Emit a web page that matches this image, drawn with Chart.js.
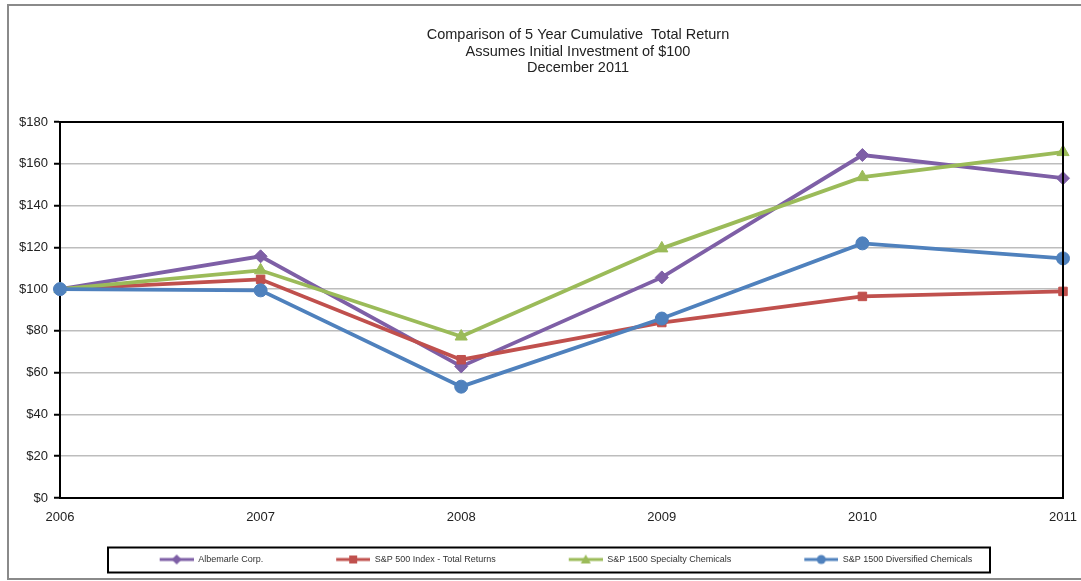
<!DOCTYPE html>
<html>
<head>
<meta charset="utf-8">
<script src="https://cdn.jsdelivr.net/npm/chart.js@4.4.1/dist/chart.umd.min.js"></script>
<style>
  html, body { margin: 0; padding: 0; background: #fff; }
  #wrap { width: 1081px; height: 581px; position: relative; }
</style>
</head>
<body>
<div id="wrap"><canvas id="tsr"></canvas></div>
<script>
const years = ['2006', '2007', '2008', '2009', '2010', '2011'];
const titleLines = [
  'Comparison of 5 Year Cumulative  Total Return',
  'Assumes Initial Investment of $100',
  'December 2011'
];

// values
const albemarle   = [100, 115.7, 63.0, 105.6, 164.2, 153.1];
const sp500       = [100, 104.7, 66.2, 84.0, 96.5, 98.9];
const specialty   = [100, 109.0, 77.3, 119.5, 153.6, 165.6];
const diversified = [100, 99.4, 53.3, 85.9, 121.9, 114.7];

const FONT = '"Liberation Sans", Arial, sans-serif';
const GAP = 69; // blank room left of each legend sample

// legend sample: short line with the marker in the middle, blank room on the left
function legendSample(color, style) {
  const c = document.createElement('canvas');
  c.width = 34 + GAP; c.height = 12;
  const g = c.getContext('2d');
  const x0 = GAP, mx = GAP + 17;
  g.strokeStyle = color;
  g.lineWidth = 3;
  g.beginPath(); g.moveTo(x0, 6); g.lineTo(x0 + 34, 6); g.stroke();
  g.fillStyle = color;
  g.beginPath();
  if (style === 'rect') g.rect(mx - 4, 2, 8, 8);
  else if (style === 'rectRot') { g.moveTo(mx, 1); g.lineTo(mx + 5, 6); g.lineTo(mx, 11); g.lineTo(mx - 5, 6); }
  else if (style === 'triangle') { g.moveTo(mx, 1); g.lineTo(mx + 5, 10); g.lineTo(mx - 5, 10); }
  else g.arc(mx, 6, 4.5, 0, Math.PI * 2);
  g.fill();
  return c;
}

function series(label, data, color, style, radius, order) {
  return {
    label, data, order,
    borderColor: color,
    backgroundColor: color,
    borderWidth: 3.8,
    pointStyle: style,
    pointRadius: radius,
    pointHoverRadius: radius,
    pointBorderWidth: 1,
    tension: 0,
    fill: false,
    sample: legendSample(color, style)
  };
}

const frame = {
  id: 'frame',
  beforeDraw(chart) {
    const ctx = chart.ctx;
    ctx.save();
    ctx.fillStyle = '#fff';
    ctx.fillRect(0, 0, chart.width, chart.height);
    ctx.strokeStyle = '#8a8a8a';
    ctx.lineWidth = 2;
    ctx.strokeRect(8, 5, chart.width + 10, 574);
    ctx.fillStyle = '#222';
    ctx.font = '14.5px ' + FONT;
    ctx.textAlign = 'center';
    ctx.textBaseline = 'middle';
    titleLines.forEach((t, i) => ctx.fillText(t, 578, 35 + i * 16.5));
    ctx.restore();
  },
  afterDatasetsDraw(chart) {
    const a = chart.chartArea, ctx = chart.ctx;
    ctx.save();
    ctx.strokeStyle = '#000';
    ctx.lineWidth = 2;
    ctx.beginPath();
    ctx.moveTo(a.left, a.top); ctx.lineTo(a.right, a.top); ctx.lineTo(a.right, a.bottom);
    ctx.stroke();
    ctx.restore();
  },
  afterDraw(chart) {
    const boxes = chart.legend.legendHitBoxes;
    if (!boxes || !boxes.length) return;
    const cy = boxes[0].top + boxes[0].height / 2;
    const ctx = chart.ctx;
    ctx.save();
    ctx.strokeStyle = '#000';
    ctx.lineWidth = 2;
    ctx.strokeRect(108, cy - 12, 882, 25);
    ctx.restore();
  }
};

new Chart(document.getElementById('tsr'), {
  type: 'line',
  data: {
    labels: years,
    datasets: [
      series('Albemarle Corp.', albemarle, '#7E5FA6', 'rectRot', 6.5, 4),
      series('S&P 500 Index - Total Returns', sp500, '#C0504D', 'rect', 6, 3),
      series('S&P 1500 Specialty Chemicals', specialty, '#9BBB59', 'triangle', 7, 2),
      series('S&P 1500 Diversified Chemicals', diversified, '#4F81BD', 'circle', 6.5, 1)
    ]
  },
  plugins: [frame],
  options: {
    responsive: true,
    maintainAspectRatio: false,
    animation: false,
    layout: { autoPadding: false, padding: { top: 122, right: 18, left: 0, bottom: 7 } },
    plugins: {
      title: { display: false },
      tooltip: { enabled: false },
      legend: {
        position: 'bottom',
        labels: {
          color: '#333',
          font: { family: FONT, size: 9 },
          boxWidth: 34 + GAP,
          pointStyleWidth: 34 + GAP,
          boxHeight: 12,
          padding: 4,
          usePointStyle: true,
          generateLabels(chart) {
            return chart.data.datasets.map((ds, i) => ({
              text: ds.label,
              pointStyle: ds.sample,
              fillStyle: ds.borderColor,
              strokeStyle: ds.borderColor,
              lineWidth: 0,
              fontColor: '#333',
              datasetIndex: i,
              hidden: false
            }));
          }
        }
      }
    },
    scales: {
      x: {
        offset: false,
        grid: { display: false, drawOnChartArea: false, drawTicks: true, tickLength: 5, color: '#000', lineWidth: 2 },
        border: { color: '#000', width: 2 },
        ticks: { color: '#222', font: { family: FONT, size: 13 }, padding: 7, maxRotation: 0 },
        afterFit(s) { s.height = 53; s.paddingLeft = 0; s.paddingRight = 0; }
      },
      y: {
        min: 0,
        max: 180,
        grid: { color: '#bdbdbd', lineWidth: 1.5, tickLength: 6, tickColor: '#000', tickWidth: 2 },
        border: { color: '#000', width: 2 },
        ticks: {
          stepSize: 20,
          color: '#222',
          font: { family: FONT, size: 13 },
          padding: 6,
          callback: v => '$' + v
        },
        afterFit(s) { s.width = 60; }
      }
    }
  }
});
</script>
</body>
</html>
